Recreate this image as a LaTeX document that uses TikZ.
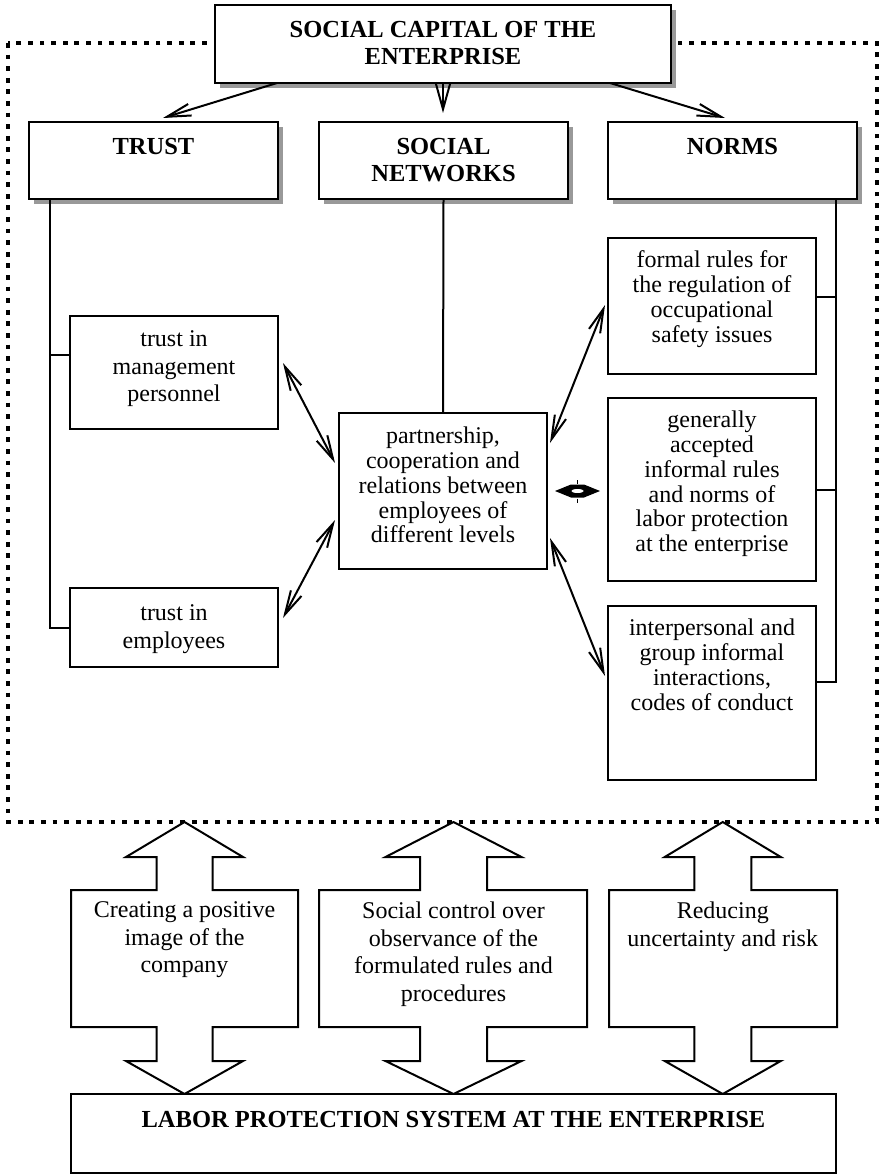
\documentclass[tikz,border=0pt]{standalone}
\usepackage{fontspec}
\setmainfont{Liberation Serif}
\usetikzlibrary{arrows.meta,shadows}
\begin{document}
\begin{tikzpicture}[x=1pt,y=-1pt,
  every node/.style={inner sep=0pt, outer sep=0pt},
  box/.style={draw, line width=2pt, fill=white},
  sbox/.style={box, general shadow={fill=black!40, shadow xshift=5pt, shadow yshift=-5pt}},
  boldtxt/.style={align=center, anchor=north, font=\fontsize{24.5}{27.5}\selectfont\bfseries},
  txtA/.style={align=center, anchor=north, font=\fontsize{24}{27.5}\selectfont},
  txtB/.style={align=center, anchor=north, font=\fontsize{24}{24.8}\selectfont},
  conn/.style={line width=2pt},
  sarr/.style={line width=2pt, -{Straight Barb[length=24pt,width=12pt]}},
  darr/.style={line width=2pt, {Straight Barb[length=24pt,width=12pt]}-{Straight Barb[length=24pt,width=12pt]}},
  dotframe/.style={line width=4.8pt, dash pattern=on 4.8pt off 6.8pt},
  blockarr/.style={draw, line width=2pt, fill=white, line join=miter}
]
\useasboundingbox (0,0) rectangle (879,1174);
\draw[dotframe] (8,43) rectangle (877,822);

% top box
\node[sbox, minimum width=456pt, minimum height=78pt] (cap) at (443,44) {};
\node[boldtxt] (capT) at ([yshift=-16pt]cap.north) {SOCIAL CAPITAL OF THE\\ENTERPRISE};

% headings
\node[sbox, minimum width=249pt, minimum height=77pt] (trust) at (153.5,160.5) {};
\node[sbox, minimum width=249pt, minimum height=77pt] (sn) at (443.5,160.5) {};
\node[sbox, minimum width=249pt, minimum height=77pt] (norms) at (732.5,160.5) {};
\node[boldtxt] (trustT) at ([yshift=-16pt]trust.north) {TRUST};
\node[boldtxt] (snT) at ([yshift=-16pt]sn.north) {SOCIAL\\NETWORKS};
\node[boldtxt] (normsT) at ([yshift=-16pt]norms.north) {NORMS};

% inner boxes
\node[box, minimum width=208pt, minimum height=113pt] (mgmt) at (174,372.5) {};
\node[box, minimum width=208pt, minimum height=79pt] (emp) at (174,627.5) {};
\node[box, minimum width=208pt, minimum height=156pt] (part) at (443,491) {};
\node[box, minimum width=208pt, minimum height=136pt] (formal) at (712,306) {};
\node[box, minimum width=208pt, minimum height=183pt] (general) at (712,489.5) {};
\node[box, minimum width=208pt, minimum height=174pt] (inter) at (712,693) {};

\node[txtA] (mgmtT) at ([yshift=-15pt]mgmt.north) {trust in\\management\\personnel};
\node[txtA] (empT) at ([yshift=-17pt]emp.north) {trust in\\employees};
\node[txtB] (partT) at ([yshift=-14pt]part.north) {partnership,\\cooperation and\\relations between\\employees of\\different levels};
\node[txtB] (formalT) at ([yshift=-13pt]formal.north) {formal rules for\\the regulation of\\occupational\\safety issues};
\node[txtB] (generalT) at ([yshift=-13pt]general.north) {generally\\accepted\\informal rules\\and norms of\\labor protection\\at the enterprise};
\node[txtB] (interT) at ([yshift=-13pt]inter.north) {interpersonal and\\group informal\\interactions,\\codes of conduct};

% connectors
\draw[conn] ([xshift=-103.5pt]trust.south) |- (emp.west);
\draw[conn] ([yshift=17.5pt]mgmt.west) -- ++(-20,0);
\draw[conn] (sn.south) -- (part.north);
\draw[conn] ([xshift=103.5pt]norms.south) |- ([yshift=11pt]inter.east);
\draw[conn] ([yshift=9pt]formal.east) -- ++(20,0);
\draw[conn] (general.east) -- ++(20,0);

% arrows from top box
\draw[sarr] ([xshift=-166pt]cap.south) -- ([xshift=9.5pt,yshift=4pt]trust.north);
\draw[line width=2pt, -{Straight Barb[length=27pt,width=15pt]}] (cap.south) -- ([xshift=-0.5pt,yshift=9pt]sn.north);
\draw[sarr] ([xshift=167pt]cap.south) -- ([xshift=-7.5pt,yshift=4pt]norms.north);

% double arrows
\draw[darr] ([xshift=5pt,yshift=9.5pt]mgmt.east) -- ([xshift=-4pt,yshift=28pt]part.west);
\draw[darr] ([xshift=-4pt,yshift=-29pt]part.west) -- ([xshift=5pt,yshift=9.5pt]emp.east);
\draw[darr] ([xshift=3pt,yshift=48pt]part.east) -- ([xshift=-3pt,yshift=1pt]formal.west);
\draw[darr] ([xshift=3pt,yshift=-47pt]part.east) -- ([xshift=-3pt,yshift=17pt]inter.west);
% small double block arrow between partnership and generally accepted
\coordinate (sa) at ([xshift=8pt]part.east);
\fill (sa) -- ++(16,-6.5) -- ++(13,0) -- ++(16,6.5) -- ++(-16,6.5) -- ++(-13,0) -- cycle;
\draw[line width=1.6pt, fill=white] ([xshift=22.5pt]sa) ellipse [x radius=7, y radius=3];
\draw[line width=1.8pt] ([xshift=22.5pt,yshift=7.5pt]sa) -- ++(0,-4) ([xshift=22.5pt,yshift=-7.5pt]sa) -- ++(0,4);

% bottom block arrows
\foreach \cx/\hh/\hs/\bl/\br in {184.5/58.5/28/71/298, 453.5/68/33.5/319/587, 722.75/58/28.5/609/837} {
  \draw[blockarr] (\cx,822) -- (\cx+\hh,857) -- (\cx+\hs,857) -- (\cx+\hs,890) -- (\br,890) -- (\br,1027) -- (\cx+\hs,1027) -- (\cx+\hs,1061) -- (\cx+\hh,1061) -- (\cx,1094) -- (\cx-\hh,1061) -- (\cx-\hs,1061) -- (\cx-\hs,1027) -- (\bl,1027) -- (\bl,890) -- (\cx-\hs,890) -- (\cx-\hs,857) -- (\cx-\hh,857) -- cycle;
}
\node[txtA] (b1T) at (184.5,902) {Creating a positive\\image of the\\company};
\node[txtA] (b2T) at (453.5,902) {Social control over\\observance of the\\formulated rules and\\procedures};
\node[txtA] (b3T) at (722.75,902) {Reducing\\uncertainty and risk};

% bottom box
\node[box, minimum width=765pt, minimum height=79pt] (lps) at (453.5,1133.5) {};
\node[boldtxt] (lpsT) at ([yshift=-17pt]lps.north) {LABOR PROTECTION SYSTEM AT THE ENTERPRISE};
\end{tikzpicture}
\end{document}
